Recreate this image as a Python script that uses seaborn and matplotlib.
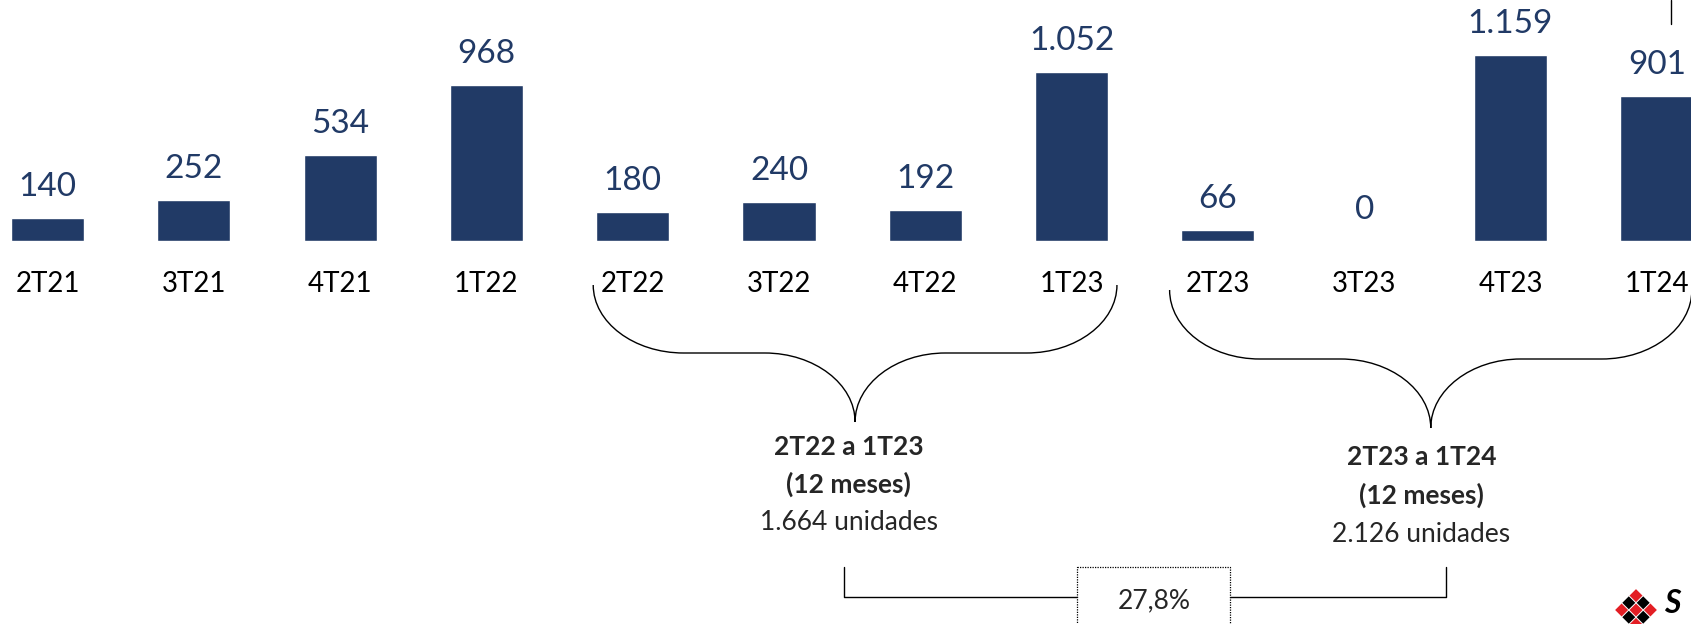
import matplotlib
matplotlib.use("Agg")
import numpy as np
import pandas as pd
import matplotlib.pyplot as plt
import matplotlib.transforms as mtransforms
from matplotlib.path import Path
from matplotlib.patches import PathPatch, Rectangle, Polygon
import seaborn as sns

# dados
trimestres = ['2T21', '3T21', '4T21', '1T22', '2T22', '3T22',
              '4T22', '1T23', '2T23', '3T23', '4T23', '1T24']
unidades = [140, 252, 534, 968, 180, 240, 192, 1052, 66, 0, 1159, 901]
rotulos = ['140', '252', '534', '968', '180', '240', '192', '1.052', '66', '0', '1.159', '901']

periodos = [('2T22', '1T23'), ('2T23', '1T24')]
periodo_titulos = ['2T22 a 1T23', '2T23 a 1T24']
periodo_totais = ['1.664 unidades', '2.126 unidades']
variacao = '27,8%'

AZUL = '#213a66'

sns.set_theme(style='white')
plt.rcParams['font.family'] = ['Lato', 'DejaVu Sans']

df = pd.DataFrame({'trimestre': trimestres, 'unidades': unidades})

W, H = 1691, 624
base_px = 240.7  # linha de base das barras (px a partir do topo)

fig = plt.figure(figsize=(W / 100, H / 100), dpi=100)
fig.patch.set_facecolor('white')
ax = fig.add_axes([0, 1 - base_px / H, 1, base_px / H])
sns.barplot(data=df, x='trimestre', y='unidades', color=AZUL, saturation=1,
            width=0.5, ax=ax)
ax.set_xlim(-0.325, 11.234)
ax.set_ylim(0, 1499)
ax.set_xlabel('')
ax.set_ylabel('')
ax.set_yticks([])
ax.tick_params(axis='x', length=0, pad=22, labelsize=20, labelcolor='black')
sns.despine(ax=ax, left=True, bottom=True)
ax.patch.set_alpha(0)

# rótulos de valor
for p, txt in zip(ax.patches, rotulos):
    ax.annotate(txt, (p.get_x() + p.get_width() / 2, p.get_height()),
                xytext=(0, 22 * 72 / 100), textcoords='offset points',
                ha='center', va='baseline', fontsize=24, color=AZUL,
                annotation_clip=False)

# camada de anotações: x em unidades de categoria, y em pixels a partir do topo
ov = fig.add_axes([0, 0, 1, 1])
ov.set_xlim(ax.get_xlim())
ov.set_ylim(H, 0)
ov.axis('off')
ov.patch.set_alpha(0)

pos = {t: i for i, t in enumerate(trimestres)}


def chave(ax_, x0, x1, y0, y1, y2, k=0.55):
    xm = (x0 + x1) / 2
    a = 0.345 * (xm - x0)
    verts = [(x0, y0),
             (x0, y0 + k * (y1 - y0)), (x0 + a - k * a, y1), (x0 + a, y1),
             (xm - a, y1),
             (xm - a + k * a, y1), (xm, y2 - k * (y2 - y1)), (xm, y2),
             (xm, y2 - k * (y2 - y1)), (xm + a - k * a, y1), (xm + a, y1),
             (x1 - a, y1),
             (x1 - a + k * a, y1), (x1, y0 + k * (y1 - y0)), (x1, y0)]
    codes = [Path.MOVETO] + [Path.CURVE4] * 3 + [Path.LINETO] + [Path.CURVE4] * 6 \
        + [Path.LINETO] + [Path.CURVE4] * 3
    ax_.add_patch(PathPatch(Path(verts, codes), fill=False, lw=1.0, ec='black'))


ext = [(-0.27, 0.31), (-0.33, 0.24)]
ys = [(285, 353, 422), (290, 359, 428)]
txt_x = [-0.024, -0.108]
txt_y = [(455, 493, 530), (465, 503.5, 541.7)]
centros = []
for (ini, fim), (e0, e1), (y0, y1, y2), dx, (t0, t1, t2), tit, tot in zip(
        periodos, ext, ys, txt_x, txt_y, periodo_titulos, periodo_totais):
    x0 = pos[ini] + e0
    x1 = pos[fim] + e1
    chave(ov, x0, x1, y0, y1, y2)
    xc = (pos[ini] + pos[fim]) / 2 + dx
    centros.append(xc)
    ov.text(xc, t0, tit, ha='center', va='baseline', fontsize=19, fontweight='bold')
    ov.text(xc, t1, '(12 meses)', ha='center', va='baseline', fontsize=19, fontweight='bold')
    ov.text(xc, t2, tot, ha='center', va='baseline', fontsize=19)

# conector de variação
xl = centros[0] - 0.035
xr = centros[1] + 0.17
bx0, bx1 = 7.04, 8.085
ov.plot([xl, xl, bx0], [566.7, 597, 597], color='black', lw=1.0)
ov.plot([bx1, xr, xr], [597, 597, 566.7], color='black', lw=1.0)
ov.add_patch(Rectangle((bx0, 566.7), bx1 - bx0, 80, fill=False, ec='black',
                       lw=0.9, ls=(0, (1, 1))))
ov.text((bx0 + bx1) / 2, 608.3, variacao, ha='center', va='baseline', fontsize=19)

# traço no canto superior direito
ov.plot([11.095, 11.095], [0, 24], color='black', lw=1.0)

# logo parcial no canto inferior direito
pix = mtransforms.IdentityTransform()
cx, cy, s = 1636, H - 610, 7.2
for i in range(-1, 2):
    for j in range(-1, 2):
        ux = cx + (i - j) * s
        uy = cy + (i + j) * s
        cor = '#e31e24' if (i + j) % 2 == 0 else 'black'
        d = s * 0.9
        fig.patches.append(Polygon([(ux, uy + d), (ux + d, uy), (ux, uy - d), (ux - d, uy)],
                                   closed=True, fc=cor, ec='none', transform=pix,
                                   figure=fig))
fig.text(1664 / W, 1 - 613 / H, 'S', fontsize=23, fontweight='bold',
         fontstyle='italic', ha='left', va='baseline', color='black')

fig.savefig('out.png', dpi=100, facecolor='white')
